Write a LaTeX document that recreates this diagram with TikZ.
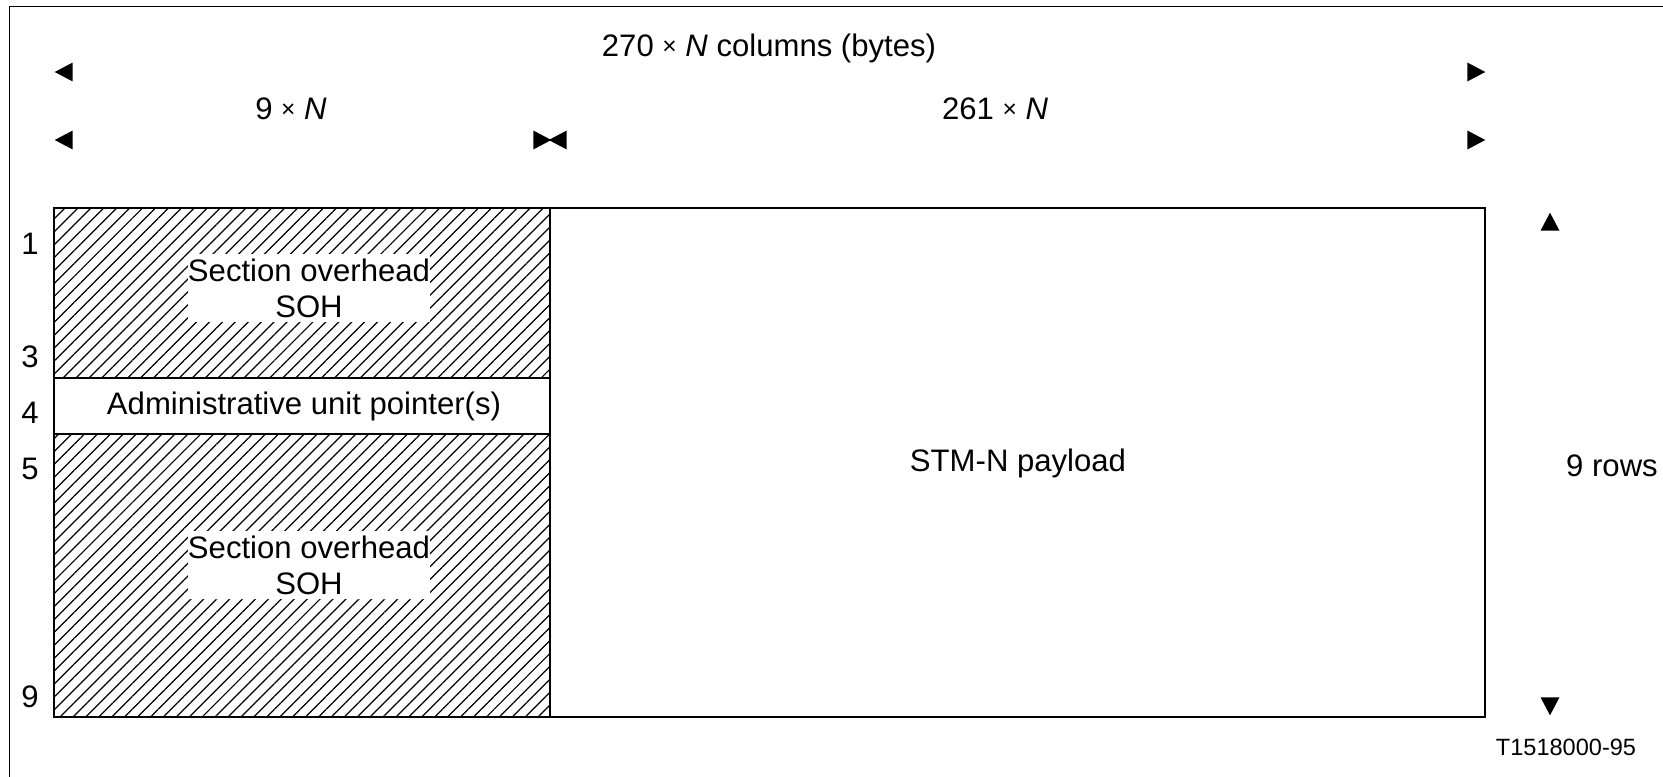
\documentclass[tikz,border=0pt]{standalone}
\usepackage{fontspec}
\setmainfont{Liberation Sans}
\usetikzlibrary{patterns.meta,shapes.geometric}
\newcommand{\bytimes}{\raisebox{0.06em}{\fontsize{14}{14}\selectfont ×}}
\tikzset{
  frameline/.style={line width=1.1pt},
  hatch/.style={pattern={Lines[angle=45,distance=5.2pt,line width=0.7pt]}},
  lbl/.style={inner sep=0pt, font=\fontsize{17.7}{20.5}\selectfont},
  soh/.style={lbl, fill=white, align=center, minimum width=4.86cm, minimum height=1.36cm},
  dimtip/.style={isosceles triangle, isosceles triangle stretches, fill=black, inner sep=0pt,
    minimum width=0.38cm, minimum height=0.36cm}
}

\begin{document}
\begin{tikzpicture}[x=0.02cm, y=-0.02cm]
  \useasboundingbox (0,0) rectangle (1663,777);
  % outer frame, cut at right and bottom
  \draw[frameline] (1663,6.5) -- (9.5,6.5) -- (9.5,777);

  % STM-N frame
  \path[hatch] (54,208) rectangle (550,378);
  \path[hatch] (54,434) rectangle (550,717);
  \draw[frameline] (54,208) rectangle (1485,717);
  \draw[frameline] (550,208) -- (550,717);
  \draw[frameline] (54,378) -- (550,378) (54,434) -- (550,434);

  \node[soh] (soh1) at (309,288) {Section overhead\\SOH};
  \node[soh] (soh2) at (309,565) {Section overhead\\SOH};
  \node[lbl] (aup) at (304,406) {Administrative unit pointer(s)};
  \node[lbl] (payload) at (1018,463) {STM-N payload};

  % row numbers
  \foreach \r/\y in {1/244,3/357,4/413,5/469,9/697}
    \node[lbl] (row\r) at (30,\y) {\r};

  % dimensions
  \node[lbl] (cols) at (769,48) {270 \bytimes{} \textit{N} columns (bytes)};
  \node[lbl] (soh-w) at (291,109) {9 \bytimes{} \textit{N}};
  \node[lbl] (pay-w) at (995,109) {261 \bytimes{} \textit{N}};
  \node[lbl] (rows) at (1612,466) {9 rows};

  \node[dimtip, shape border rotate=180] (c270l) at (67,72) {};
  \node[dimtip] (c270r) at (1473,72) {};
  \node[dimtip, shape border rotate=180] (c9l) at (67,140) {};
  \node[dimtip] (c9r) at (539,140) {};
  \node[dimtip, shape border rotate=180] (c261l) at (561,140) {};
  \node[dimtip] (c261r) at (1473,140) {};
  \node[dimtip, shape border rotate=90] (r9t) at (1550,225) {};
  \node[dimtip, shape border rotate=270] (r9b) at (1550,703) {};

  \node[lbl, font=\fontsize{13.4}{15}\selectfont] (fig) at (1566,747) {T1518000-95};
\end{tikzpicture}
\end{document}
